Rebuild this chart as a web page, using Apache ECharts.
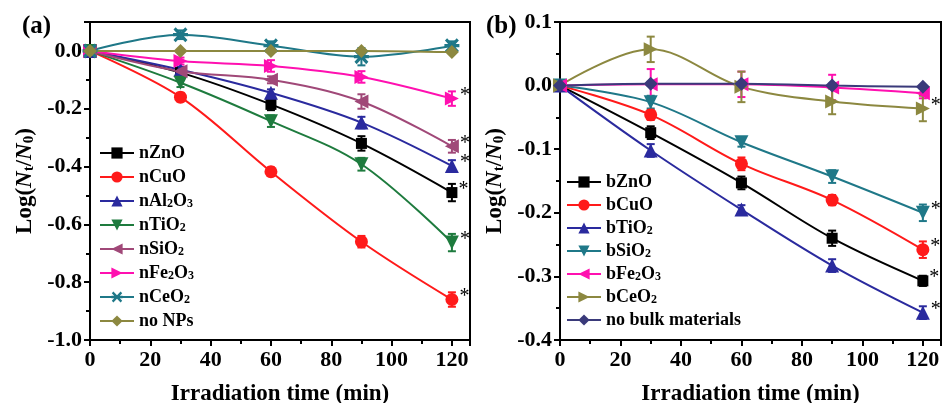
<!DOCTYPE html>
<html>
<head>
<meta charset="utf-8">
<script src="https://cdn.jsdelivr.net/npm/echarts@6/dist/echarts.min.js"></script>
<style>
  html, body { margin: 0; padding: 0; background: #fff; }
  #main { width: 943px; height: 403px; }
</style>
</head>
<body>
<div id="main"></div>
<script>
// irradiation times (min)
var timeA = [0, 30, 60, 90, 120];
var timeB = [0, 30, 60, 90, 120];

// panel (a) nanoparticles, Log(Nt/N0)
var nZnO   = [0, -0.075, -0.185, -0.320, -0.490];
var nCuO   = [0, -0.160, -0.418, -0.660, -0.860];
var nAl2O3 = [0, -0.065, -0.145, -0.248, -0.398];
var nTiO2  = [0, -0.110, -0.243, -0.392, -0.663];
var nSiO2  = [0, -0.070, -0.100, -0.175, -0.330];
var nFe2O3 = [0, -0.035, -0.052, -0.090, -0.165];
var nCeO2  = [0, 0.056, 0.018, -0.020, 0.018];
var noNPs  = [0, 0, 0, 0, -0.004];
// error bars (a)
var errZnO   = [0, 0.010, 0.020, 0.025, 0.030];
var errCuO   = [0, 0.015, 0.015, 0.020, 0.025];
var errAl2O3 = [0, 0.010, 0.012, 0.020, 0.020];
var errTiO2  = [0, 0.015, 0.020, 0.022, 0.030];
var errSiO2  = [0, 0.010, 0.012, 0.025, 0.022];
var errFe2O3 = [0, 0.012, 0.020, 0.020, 0.025];
var errCeO2  = [0.010, 0.015, 0.015, 0.030, 0.015];
var errNoNPs = [0, 0, 0, 0, 0.006];

// panel (b) bulk materials
var bZnO    = [0, -0.074, -0.153, -0.240, -0.307];
var bCuO    = [0, -0.046, -0.123, -0.180, -0.258];
var bTiO2   = [0, -0.102, -0.195, -0.283, -0.357];
var bSiO2   = [0, -0.026, -0.089, -0.143, -0.200];
var bFe2O3  = [0, 0.002, 0.002, -0.003, -0.012];
var bCeO2   = [0, 0.057, -0.002, -0.025, -0.036];
var noBulk  = [0, 0.003, 0.003, 0.000, -0.002];
// error bars (b)
var errbZnO   = [0, 0.010, 0.010, 0.012, 0.008];
var errbCuO   = [0, 0.008, 0.010, 0.008, 0.013];
var errbTiO2  = [0, 0.010, 0.007, 0.010, 0.010];
var errbSiO2  = [0, 0.010, 0.007, 0.010, 0.013];
var errbFe2O3 = [0, 0.024, 0.020, 0.020, 0.008];
var errbCeO2  = [0, 0.020, 0.024, 0.020, 0.020];
var errNoBulk = [0.004, 0.003, 0.003, 0.003, 0.003];

var xTicks = [0, 20, 40, 60, 80, 100, 120];

var SERIF = 'Liberation Serif';
// asterisk marker: horizontal bar + two diagonals
var starPath = 'path://M0 8L20 8L20 12L0 12Z M3.6 0.7L19.3 16.4L16.4 19.3L0.7 3.6Z M19.3 3.6L3.6 19.3L0.7 16.4L16.4 0.7Z';

var seriesA = [
  {name: 'nZnO',   y: nZnO,   e: errZnO,   color: '#000000', symbol: 'rect',     size: 11, rot: 0,   star: true},
  {name: 'nCuO',   y: nCuO,   e: errCuO,   color: '#ff1a1a', symbol: 'circle',   size: 13, rot: 0,   star: true},
  {name: 'nAl2O3', y: nAl2O3, e: errAl2O3, color: '#2a2a9e', symbol: 'triangle', size: 14, rot: 0,   star: true},
  {name: 'nTiO2',  y: nTiO2,  e: errTiO2,  color: '#1e7b3e', symbol: 'triangle', size: 14, rot: 180, star: true},
  {name: 'nSiO2',  y: nSiO2,  e: errSiO2,  color: '#a04878', symbol: 'triangle', size: 14, rot: 90,  star: true},
  {name: 'nFe2O3', y: nFe2O3, e: errFe2O3, color: '#ff10b0', symbol: 'triangle', size: 14, rot: -90, star: true},
  {name: 'nCeO2',  y: nCeO2,  e: errCeO2,  color: '#1f7888', symbol: starPath,   size: 15, rot: 0,   star: false},
  {name: 'no NPs', y: noNPs,  e: errNoNPs, color: '#8c8840', symbol: 'diamond',  size: 14, rot: 0,   star: false}
];
var seriesB = [
  {name: 'bZnO',   y: bZnO,   e: errbZnO,   color: '#000000', symbol: 'rect',     size: 11, rot: 0,   star: true},
  {name: 'bCuO',   y: bCuO,   e: errbCuO,   color: '#ff1a1a', symbol: 'circle',   size: 13, rot: 0,   star: true},
  {name: 'bTiO2',  y: bTiO2,  e: errbTiO2,  color: '#2a2a9e', symbol: 'triangle', size: 14, rot: 0,   star: true},
  {name: 'bSiO2',  y: bSiO2,  e: errbSiO2,  color: '#1f7888', symbol: 'triangle', size: 14, rot: 180, star: true},
  {name: 'bFe2O3', y: bFe2O3, e: errbFe2O3, color: '#ff10b0', symbol: 'triangle', size: 14, rot: 90,  star: false},
  {name: 'bCeO2',  y: bCeO2,  e: errbCeO2,  color: '#8c8840', symbol: 'triangle', size: 14, rot: -90, star: true},
  {name: 'no bulk materials', y: noBulk, e: errNoBulk, color: '#3a3a7a', symbol: 'diamond', size: 14, rot: 0, star: false}
];

// error bar drawing
function errRender(params, api) {
  var x = api.value(0), y = api.value(1), e = api.value(2);
  if (!e) return null;
  var hi = api.coord([x, y + e]);
  var lo = api.coord([x, y - e]);
  var w = 4;
  var st = {stroke: api.visual('color'), lineWidth: 2};
  return {
    type: 'group',
    children: [
      {type: 'line', shape: {x1: hi[0], y1: hi[1], x2: lo[0], y2: lo[1]}, style: st},
      {type: 'line', shape: {x1: hi[0] - w, y1: hi[1], x2: hi[0] + w, y2: hi[1]}, style: st},
      {type: 'line', shape: {x1: lo[0] - w, y1: lo[1], x2: lo[0] + w, y2: lo[1]}, style: st}
    ]
  };
}

function buildSeries(list, times, idx) {
  var out = [];
  list.forEach(function (s) {
    var pts = times.map(function (t, i) {
      var item = {value: [t, s.y[i]]};
      if (s.star && i === times.length - 1) {
        item.label = {
          show: true, formatter: '*', position: 'right', offset: [-4, -3],
          color: '#000', fontSize: 20, fontFamily: SERIF
        };
      }
      return item;
    });
    out.push({
      name: s.name,
      type: 'line',
      xAxisIndex: idx, yAxisIndex: idx,
      smooth: 0.35,
      data: pts,
      symbol: s.symbol,
      symbolSize: s.size,
      symbolRotate: s.rot,
      showAllSymbol: true,
      lineStyle: {color: s.color, width: 2},
      itemStyle: {color: s.color},
      emphasis: {disabled: true},
      z: 3
    });
    out.push({
      name: s.name + ' err',
      type: 'custom',
      xAxisIndex: idx, yAxisIndex: idx,
      renderItem: errRender,
      itemStyle: {color: s.color},
      encode: {x: 0, y: 1},
      data: times.map(function (t, i) { return [t, s.y[i], s.e[i]]; }),
      z: 2
    });
  });
  return out;
}

function subRich(name) {
  return '{t|' + name.replace(/(\d)/g, '}{s|$1}{t|') + '}';
}

var legendRich = {
  t: {fontFamily: SERIF, fontWeight: 'bold', fontSize: 18, color: '#000'},
  s: {fontFamily: SERIF, fontWeight: 'bold', fontSize: 12, color: '#000', verticalAlign: 'bottom', padding: [6, 0, 0, 0]}
};

function xAxisCfg(idx) {
  return {
    type: 'value', gridIndex: idx, min: 0, max: 126, interval: 20,
    name: 'Irradiation time (min)', nameLocation: 'middle', nameGap: 43,
    nameTextStyle: {fontFamily: SERIF, fontWeight: 'bold', fontSize: 23, color: '#000'},
    axisLine: {show: true, onZero: false, lineStyle: {color: '#000', width: 2}},
    axisTick: {show: true, inside: false, length: 6, lineStyle: {color: '#000', width: 2}},
    minorTick: {show: true, splitNumber: 2, length: 4, lineStyle: {color: '#000', width: 2}},
    axisLabel: {
      fontFamily: SERIF, fontWeight: 'bold', fontSize: 22, color: '#000', margin: 9,
      formatter: function (v) { return xTicks.indexOf(v) >= 0 ? String(v) : ''; }
    },
    splitLine: {show: false}
  };
}

function yAxisCfg(idx, min, max, step, gap) {
  return {
    type: 'value', gridIndex: idx, min: min, max: max, interval: step,
    name: '{t|Log(}{i|N}{s|t}{t|/}{i|N}{s|0}{t|)}', nameLocation: 'middle', nameGap: gap,
    nameTextStyle: {
      rich: {
        t: {fontFamily: SERIF, fontWeight: 'bold', fontSize: 23, color: '#000'},
        i: {fontFamily: SERIF, fontWeight: 'bold', fontStyle: 'italic', fontSize: 23, color: '#000'},
        s: {fontFamily: SERIF, fontWeight: 'bold', fontSize: 15, color: '#000', verticalAlign: 'bottom', padding: [8, 0, 0, 0]}
      }
    },
    axisLine: {show: true, onZero: false, lineStyle: {color: '#000', width: 2}},
    axisTick: {show: true, inside: false, length: 6, lineStyle: {color: '#000', width: 2}},
    minorTick: {show: true, splitNumber: 2, length: 4, lineStyle: {color: '#000', width: 2}},
    axisLabel: {
      fontFamily: SERIF, fontWeight: 'bold', fontSize: 22, color: '#000', margin: 8,
      formatter: function (v) {
        var k = Math.round(v / step);
        if (Math.abs(k * step - v) > 1e-6) return '';
        return (k * step).toFixed(1);
      }
    },
    splitLine: {show: false}
  };
}

var chart = echarts.init(document.getElementById('main'), null, {renderer: 'canvas'});

var option = {
  backgroundColor: '#fff',
  animation: false,
  grid: [
    {left: 90, top: 22, width: 380, height: 318, show: true, borderColor: '#000', borderWidth: 2, outerBoundsMode: 'none', containLabel: false},
    {left: 560, top: 22, width: 381, height: 318, show: true, borderColor: '#000', borderWidth: 2, outerBoundsMode: 'none', containLabel: false}
  ],
  xAxis: [xAxisCfg(0), xAxisCfg(1)],
  yAxis: [yAxisCfg(0, -1.0, 0.1, 0.2, 53), yAxisCfg(1, -0.4, 0.1, 0.1, 53)],
  legend: [
    {
      data: seriesA.map(function (s) { return s.name; }),
      orient: 'vertical', left: 99, top: 144, padding: 0, itemWidth: 34, itemHeight: 14, itemGap: 6,
      formatter: subRich, textStyle: {rich: legendRich}, selectedMode: false
    },
    {
      data: seriesB.map(function (s) { return s.name; }),
      orient: 'vertical', left: 566, top: 173, padding: 0, itemWidth: 34, itemHeight: 14, itemGap: 5,
      formatter: subRich, textStyle: {rich: legendRich}, selectedMode: false
    }
  ],
  graphic: [
    {type: 'text', left: 22, top: 14, style: {text: '(a)', font: 'bold 25px "Liberation Serif"', fill: '#000'}},
    {type: 'text', left: 486, top: 14, style: {text: '(b)', font: 'bold 25px "Liberation Serif"', fill: '#000'}}
  ],
  series: buildSeries(seriesA, timeA, 0).concat(buildSeries(seriesB, timeB, 1))
};

chart.setOption(option);
</script>
</body>
</html>
